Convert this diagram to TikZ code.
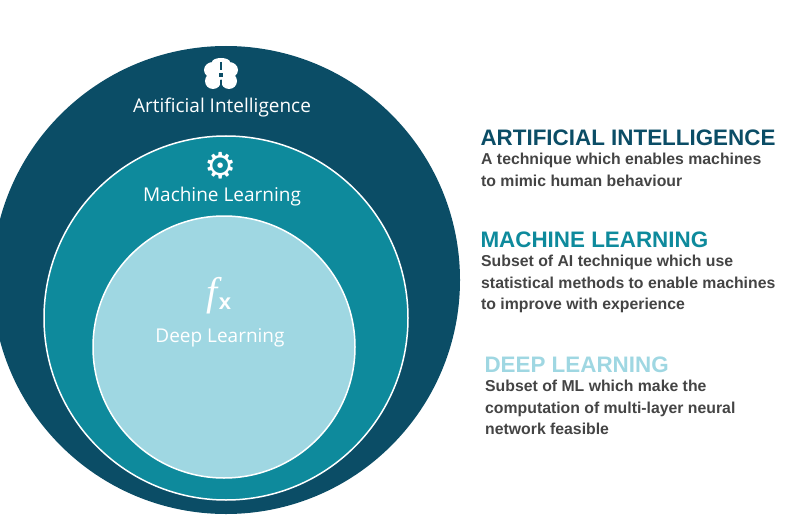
\documentclass[tikz,border=0pt]{standalone}
\usepackage{fontspec}
\setmainfont{Liberation Sans}
\newfontfamily\lbl{Open Sans}
\newfontfamily\dej{DejaVu Sans}
\newfontfamily\fxfont{Liberation Serif}
\definecolor{ai}{HTML}{0B4D66}
\definecolor{ml}{HTML}{0E8A9C}
\definecolor{dl}{HTML}{9FD7E2}
\definecolor{body}{HTML}{444444}
\begin{document}
\begin{tikzpicture}[x=1pt,y=-1pt,
  lab/.style={text=white,font=\lbl\fontsize{19}{22}\selectfont},
  ttl/.style={anchor=west,font=\bfseries\fontsize{22.4}{26}\selectfont},
  bdy/.style={anchor=north west,align=left,text=body,inner sep=0,font=\bfseries\fontsize{15.8}{21.5}\selectfont}]
\useasboundingbox (0,0) rectangle (800,524);
\fill[ai] (226,280) circle (234);
\draw[white,line width=1.5,fill=ml] (226,318) circle (182);
\draw[white,line width=1.5,fill=dl] (224,347) circle (131);
% brain icon
\coordinate (brain) at (221,75);
\fill[white] (213,70) ellipse (9 and 8);
\fill[white] (229,70) ellipse (9 and 8);
\fill[white] (213,81) ellipse (8 and 8);
\fill[white] (229,81) ellipse (8 and 8);
\fill[white] (221,62) ellipse (9 and 4);
\draw[ai,line width=1.2] (221,62) -- (221,70) (221,80) -- (221,90);
\fill[white] (217,71) rectangle (225,79);
\fill[ai] (219,73) rectangle (223,77);
\node[lab] (ail) at (222,108) {Artificial Intelligence};
\node[text=white,font=\dej\fontsize{36}{36}\selectfont] (gear) at (221,166) {⚙};
\node[lab] (mll) at (222,197) {Machine Learning};
\node[text=white,inner sep=0] (fx) at (219,296) {{\fxfont\itshape\fontsize{40}{40}\selectfont f}\kern1pt\raisebox{-4pt}{\fontsize{22}{22}\selectfont\bfseries x}};
\node[lab] (dll) at (220,338) {Deep Learning};
\node[ttl,text=ai] (t1) at (477,138) {ARTIFICIAL INTELLIGENCE};
\node[bdy] (b1) at (481,153) {A technique which enables machines\\to mimic human behaviour};
\node[ttl,text=ml] (t2) at (477,240) {MACHINE LEARNING};
\node[bdy] (b2) at (481,255) {Subset of AI technique which use\\statistical methods to enable machines\\to improve with experience};
\node[ttl,text=dl] (t3) at (481,365) {DEEP LEARNING};
\node[bdy] (b3) at (485,380) {Subset of ML which make the\\computation of multi-layer neural\\network feasible};
\end{tikzpicture}
\end{document}
